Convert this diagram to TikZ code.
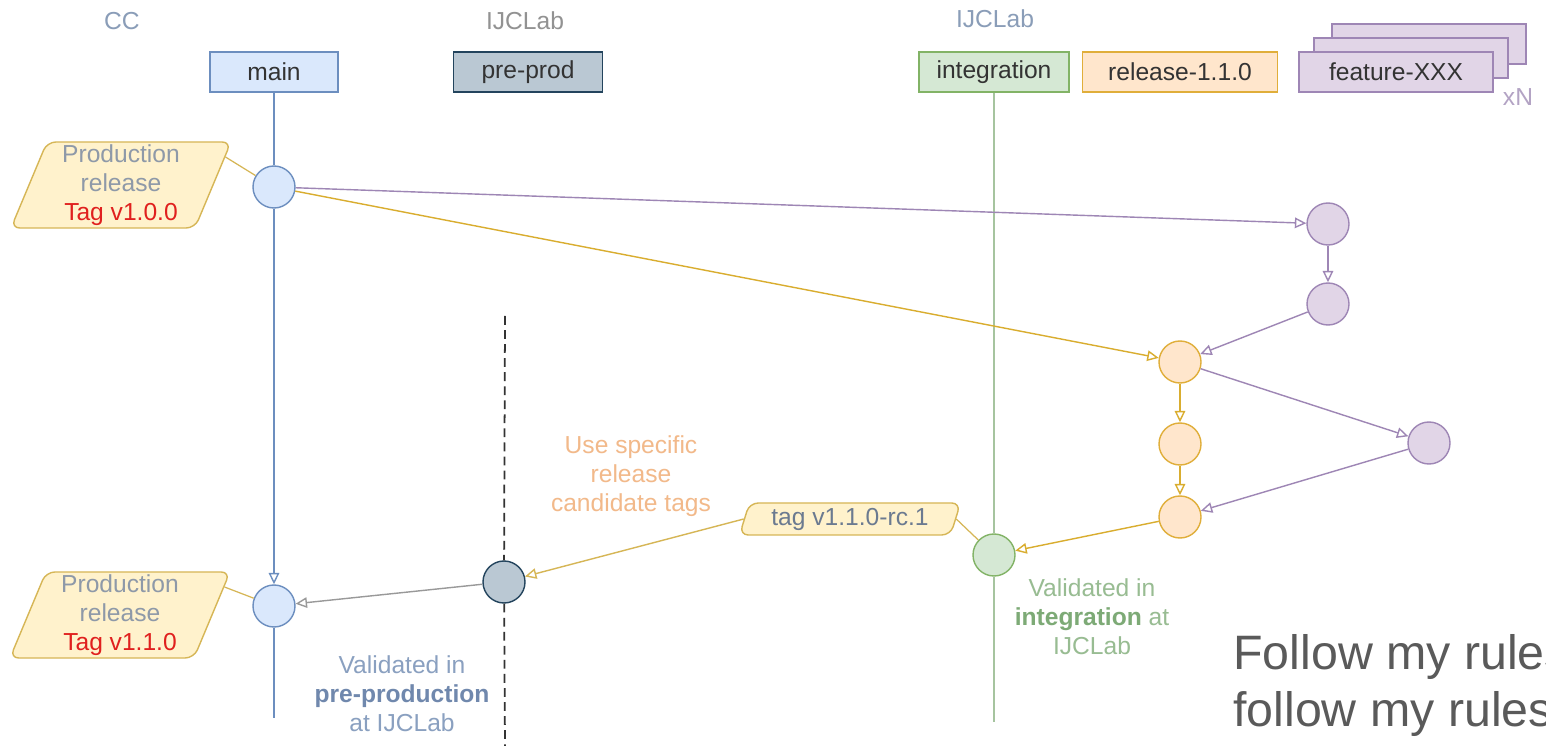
\documentclass[tikz,border=0pt]{standalone}
\usepackage{fontspec}
\setmainfont{Liberation Sans}
\usetikzlibrary{arrows.meta,shapes.geometric}

\definecolor{mainfill}{HTML}{DAE8FC}
\definecolor{mainline}{HTML}{6C8EBF}
\definecolor{ppfill}{HTML}{BAC8D3}
\definecolor{ppline}{HTML}{23445D}
\definecolor{intfill}{HTML}{D5E8D4}
\definecolor{intline}{HTML}{82B366}
\definecolor{intthin}{HTML}{A6C49F}
\definecolor{relfill}{HTML}{FFE6CC}
\definecolor{relline}{HTML}{E0AE3A}
\definecolor{relarrow}{HTML}{D9AD2F}
\definecolor{featfill}{HTML}{E1D5E7}
\definecolor{featline}{HTML}{9E86B5}
\definecolor{notefill}{HTML}{FFF2CC}
\definecolor{noteline}{HTML}{D6B656}
\definecolor{labelblue}{HTML}{8A9DB8}
\definecolor{labelgray}{HTML}{929292}
\definecolor{notetext}{HTML}{8E99A8}
\definecolor{tagred}{HTML}{E0201E}
\definecolor{tagtext}{HTML}{6B7A90}
\definecolor{usetext}{HTML}{F2B98A}
\definecolor{valgreen}{HTML}{98BC92}
\definecolor{valgreenb}{HTML}{7DAA76}
\definecolor{valblue}{HTML}{8AA0C0}
\definecolor{valblueb}{HTML}{7088AD}
\definecolor{xntext}{HTML}{B3A3C4}
\definecolor{rulestext}{HTML}{5A5A5A}

\def\pu{0.02cm}

\begin{document}
\begin{tikzpicture}[x=0.02cm, y=-0.02cm,
  font=\fontsize{14}{16.5}\selectfont,
  branch/.style={draw, line width=0.9pt, minimum height=40*\pu, inner sep=0pt, text=black!80},
  commit/.style={circle, draw, line width=0.8pt, minimum size=42*\pu, inner sep=0pt},
  note/.style={trapezium, trapezium left angle=66, trapezium right angle=114,
    trapezium stretches body, draw=noteline, fill=notefill, rounded corners=5pt,
    line width=0.8pt, align=center, inner sep=0pt, text=notetext},
  flow/.style={line width=0.8pt, -{Triangle[open, length=6.5pt, width=6pt]}},
  plain/.style={line width=0.7pt},
  caption/.style={align=center, inner sep=0pt}
]
\clip (0,0) rectangle (1546,746);
\fill[white] (0,0) rectangle (1546,746);

% branch headers
\node[text=labelblue] (lcc) at (122,21) {CC};
\node[text=labelgray] (lpp) at (525,21) {IJCLab};
\node[text=labelblue] (lint) at (995,19) {IJCLab};

\node[branch, fill=mainfill, draw=mainline, minimum width=128*\pu] (bmain) at (274,72) {main};
\node[branch, fill=ppfill, draw=ppline, minimum width=149*\pu] (bpp) at (528,72) {pre-prod};
\node[branch, fill=intfill, draw=intline, minimum width=150*\pu] (bint) at (994,72) {integration};
\node[branch, fill=relfill, draw=relline, minimum width=195*\pu] (brel) at (1180,72) {release-1.1.0};
\node[branch, fill=featfill, draw=featline, minimum width=194*\pu] (bfeat3) at (1429,44) {};
\node[branch, fill=featfill, draw=featline, minimum width=194*\pu] (bfeat2) at (1411,58) {};
\node[branch, fill=featfill, draw=featline, minimum width=194*\pu] (bfeat) at (1396,72) {feature-XXX};
\node[text=xntext] (lxn) at (1518,97) {xN};

% commits
\node[commit, fill=mainfill, draw=mainline] (c1) at (274,187) {};
\node[commit, fill=mainfill, draw=mainline] (c2) at (274,606) {};
\node[commit, fill=ppfill, draw=ppline] (pp) at (504,582) {};
\node[commit, fill=intfill, draw=intline] (ci) at (994,555) {};
\node[commit, fill=relfill, draw=relline] (r1) at (1180,362) {};
\node[commit, fill=relfill, draw=relline] (r2) at (1180,444) {};
\node[commit, fill=relfill, draw=relline] (r3) at (1180,517) {};
\node[commit, fill=featfill, draw=featline] (f1) at (1328,224) {};
\node[commit, fill=featfill, draw=featline] (f2) at (1328,304) {};
\node[commit, fill=featfill, draw=featline] (f3) at (1429,443) {};

% branch life lines
\coordinate (mainend) at (274,718);
\coordinate (intend) at (994,722);
\coordinate (dtop) at (505,316);
\coordinate (dbot) at (505,746);
\draw[plain, mainline] (bmain) -- (c1);
\draw[flow, mainline] (c1) -- (c2);
\draw[plain, mainline] (c2) -- (mainend);
\draw[line width=0.6pt, intthin] (bint) -- (ci);
\draw[line width=0.6pt, intthin] (ci) -- (intend);
\draw[line width=1pt, black!80, dash pattern=on 5pt off 3pt] (dtop) -- (pp);
\draw[line width=1pt, black!80, dash pattern=on 5pt off 3pt] (pp) -- (dbot);

% tags on commits
\node[note, minimum width=220*\pu, minimum height=86*\pu] (n1) at (121,185)
  {Production\\release\\\textcolor{tagred}{Tag v1.0.0}};
\node[note, minimum width=220*\pu, minimum height=86*\pu] (n2) at (120,615)
  {Production\\release\\\textcolor{tagred}{Tag v1.1.0}};
\node[note, text=tagtext, minimum width=221*\pu, minimum height=32*\pu] (tag) at (850,519)
  {tag v1.1.0-rc.1};
\draw[plain, noteline] (n1.15) -- (c1);
\draw[plain, noteline] (n2.15) -- (c2);

% merges and flows
\draw[flow, featline] (c1) -- (f1);
\draw[flow, relarrow] (c1) -- (r1);
\draw[flow, featline] (f1) -- (f2);
\draw[flow, featline] (f2) -- (r1);
\draw[flow, featline] (r1) -- (f3);
\draw[flow, featline] (f3) -- (r3);
\draw[flow, relarrow] (r1) -- (r2);
\draw[flow, relarrow] (r2) -- (r3);
\draw[flow, relarrow] (r3) -- (ci);
\draw[plain, noteline] (ci) -- (tag.east);
\draw[flow, noteline] (tag.west) -- (pp);
\draw[flow, black!40] (pp) -- (c2);

% captions
\node[caption, text=usetext] (use) at (631,476) {Use specific\\release\\candidate tags};
\node[caption, text=valgreen] (vint) at (1092,617)
  {Validated in\\\textcolor{valgreenb}{\bfseries integration} at\\IJCLab};
\node[caption, text=valblue] (vpp) at (402,694)
  {Validated in\\\textcolor{valblueb}{\bfseries pre-production}\\at IJCLab};

\node[anchor=north west, inner sep=0pt, align=left, text=rulestext,
  font=\fontsize{27.5}{32.3}\selectfont] (rules) at (1233,634)
  {Follow my rules\\follow my rules};
\end{tikzpicture}
\end{document}
